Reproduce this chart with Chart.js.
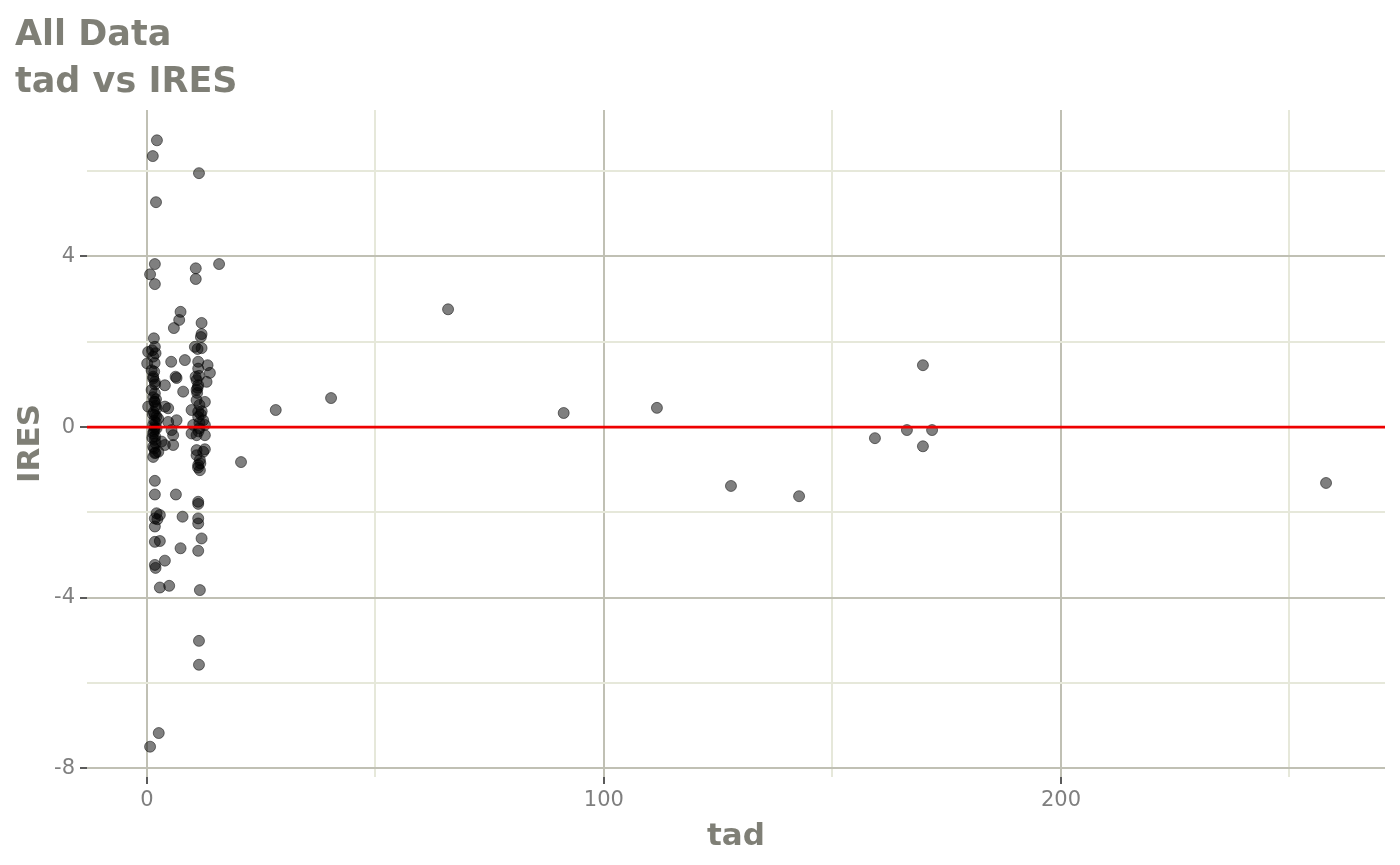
<!DOCTYPE html>
<html>
<head>
<meta charset="utf-8">
<script src="https://cdn.jsdelivr.net/npm/chart.js@4.4.1/dist/chart.umd.min.js"></script>
<style>
html,body{margin:0;padding:0;background:#ffffff;}
#wrap{width:1400px;height:865px;position:relative;}
</style>
</head>
<body>
<div id="wrap"><canvas id="c" width="1400" height="865"></canvas></div>
<script>
const chartTitle = ['All Data', 'tad vs IRES'];
const xLabel = 'tad';
const yLabel = 'IRES';
const xTicks = [0, 100, 200];
const xMinorTicks = [50, 150, 250];
const yTicks = [-8, -4, 0, 4];
const yMinorTicks = [-6, -2, 2, 6];
const refLine = 0;

const tad = [
  2.2, 1.3, 11.4, 2.0, 1.75, 0.7, 1.75, 10.7, 10.7, 15.8, 65.9,
  7.37, 7.07, 5.91, 11.97, 11.97, 11.82, 1.53, 1.75, 1.16, 0.28, 1.90, 1.38, 10.50, 11.09, 11.97,
  0.07, 5.32, 8.32, 11.23, 11.23, 13.28, 13.79, 1.03, 1.38, 6.28, 10.66,
  1.38, 1.75, 3.94, 6.50, 10.88, 11.23, 13.06, 10.88, 11.1, 1.03, 1.75, 7.94, 0.28, 1.75, 2.12,
  3.94, 4.66, 10.88, 12.69, 11.5, 9.78, 11.23, 12.0, 1.75, 2.47, 6.50, 4.66, 11.23, 12.32, 1.38,
  2.12, 10.13, 12.69, 11.5, 5.40, 5.75, 5.75, 1.38, 1.75, 3.22, 1.38, 3.94, 9.78, 10.88, 12.69,
  10.88, 12.69,
  1.38, 1.75, 2.5, 10.88, 11.60, 11.23, 11.60, 12.32, 1.75, 1.75, 6.35, 11.23, 11.23, 2.12, 2.84,
  1.75, 2.3, 7.81, 11.23, 11.23, 1.75,
  1.75, 2.84, 11.97, 7.37, 11.23, 3.94, 1.75, 1.90, 2.84, 4.88, 11.60,
  11.4, 11.4, 2.6, 0.7,
  20.6, 28.2, 40.3, 91.2, 111.6, 127.8, 142.7, 159.3, 166.3, 169.8, 169.8, 171.8, 258.0,
  1.5, 1.6, 1.7, 1.5, 1.8, 1.6, 1.9, 1.4, 1.7, 1.6, 1.9, 2.0, 1.3, 1.2, 2.1, 1.6, 1.8, 1.7, 2.0, 1.9,
  11.0, 11.5, 11.3, 11.8, 11.4, 11.7, 11.2
];
const ires = [
  6.72, 6.35, 5.95, 5.27, 3.82, 3.58, 3.35, 3.72, 3.47, 3.82, 2.76,
  2.70, 2.51, 2.32, 2.44, 2.18, 2.11, 2.08, 1.88, 1.80, 1.76, 1.73, 1.65, 1.88, 1.83, 1.85,
  1.49, 1.53, 1.57, 1.53, 1.37, 1.45, 1.27, 1.33, 1.18, 1.18, 1.18,
  1.14, 1.06, 0.98, 1.15, 1.10, 0.98, 1.06, 0.87, 0.92, 0.87, 0.79, 0.83, 0.48, 0.59, 0.44,
  0.48, 0.44, 0.63, 0.59, 0.52, 0.40, 0.36, 0.37, 0.28, 0.20, 0.16, 0.12, 0.24, 0.16, 0.05,
  -0.03, 0.05, 0.05, -0.03, -0.07, -0.19, -0.42, -0.15, -0.30, -0.34, -0.46, -0.42, -0.15, -0.19, -0.19,
  -0.54, -0.52,
  -0.70, -0.61, -0.58, -0.66, -0.77, -0.89, -1.01, -0.58, -1.26, -1.58, -1.58, -1.75, -1.80, -2.02, -2.06,
  -2.14, -2.16, -2.10, -2.14, -2.26, -2.33,
  -2.69, -2.67, -2.61, -2.84, -2.90, -3.13, -3.23, -3.30, -3.76, -3.72, -3.82,
  -5.01, -5.57, -7.17, -7.49,
  -0.82, 0.40, 0.68, 0.33, 0.45, -1.38, -1.62, -0.26, -0.07, -0.45, 1.45, -0.07, -1.31,
  0.35, 0.15, -0.05, -0.10, -0.22, 0.60, 0.50, 0.70, 0.00, -0.50, -0.38, 0.10, 0.30, -0.25, 0.25, 1.30, 1.00, 1.50, 0.65, -0.60,
  0.80, 0.10, -0.10, 0.30, 1.20, -0.85, -0.95
];

const points = tad.map((v, i) => ({x: v, y: ires[i]}));

const FONT = '"DejaVu Sans", sans-serif';
const TITLE_COLOR = '#7f7f76';
const TICK_COLOR = '#7f7f7f';
const MAJOR_GRID = '#c0c0b4';
const MINOR_GRID = '#e6e8da';
const TICK_MARK = '#5a5a5a';

const isIn = (v, arr) => arr.some(t => Math.abs(v - t) < 1e-6);

const refLinePlugin = {
  id: 'refLine',
  afterDatasetsDraw(chart) {
    const {ctx, chartArea, scales} = chart;
    const y = scales.y.getPixelForValue(refLine);
    ctx.save();
    ctx.strokeStyle = '#ee0000';
    ctx.lineWidth = 2.7;
    ctx.beginPath();
    ctx.moveTo(chartArea.left, y);
    ctx.lineTo(chartArea.right, y);
    ctx.stroke();
    ctx.restore();
  }
};

new Chart(document.getElementById('c'), {
  type: 'scatter',
  data: {
    datasets: [{
      data: points,
      backgroundColor: 'rgba(0,0,0,0.5)',
      borderColor: 'rgba(0,0,0,0.5)',
      borderWidth: 1,
      pointRadius: 5.5,
      pointHoverRadius: 5.5
    }]
  },
  options: {
    responsive: false,
    animation: false,
    events: [],
    layout: {padding: {left: 15, right: 15, top: 0, bottom: 0}},
    plugins: {
      legend: {display: false},
      tooltip: {enabled: false},
      title: {
        display: true,
        text: chartTitle,
        align: 'start',
        color: TITLE_COLOR,
        font: {family: FONT, size: 35, weight: 'bold', lineHeight: 47 / 35},
        padding: {top: 12, bottom: 4}
      }
    },
    scales: {
      x: {
        type: 'linear',
        min: -13.1,
        max: 270.9,
        border: {display: false},
        afterBuildTicks(scale) {
          scale.ticks = xTicks.concat(xMinorTicks).sort((a, b) => a - b).map(v => ({value: v}));
        },
        afterFit(scale) { scale.height = 88; },
        ticks: {
          padding: 4,
          color: TICK_COLOR,
          font: {family: FONT, size: 21},
          maxRotation: 0,
          autoSkip: false,
          callback: (v) => isIn(v, xTicks) ? String(v) : ''
        },
        grid: {
          lineWidth: 2,
          color: (c) => (c.tick && isIn(c.tick.value, xTicks)) ? MAJOR_GRID : MINOR_GRID,
          tickColor: (c) => (c.tick && isIn(c.tick.value, xTicks)) ? TICK_MARK : 'rgba(0,0,0,0)',
          tickLength: 7,
          drawTicks: true
        },
        title: {
          display: true,
          text: xLabel,
          color: TITLE_COLOR,
          font: {family: FONT, size: 31, weight: 'bold', lineHeight: 1.2},
          padding: {top: 0, bottom: 9}
        }
      },
      y: {
        type: 'linear',
        min: -8.2,
        max: 7.43,
        border: {display: false},
        afterBuildTicks(scale) {
          scale.ticks = yTicks.concat(yMinorTicks).sort((a, b) => a - b).map(v => ({value: v}));
        },
        afterFit(scale) { scale.width = 72; },
        ticks: {
          padding: 5,
          color: TICK_COLOR,
          font: {family: FONT, size: 21},
          autoSkip: false,
          callback: (v) => isIn(v, yTicks) ? String(v) : ''
        },
        grid: {
          lineWidth: 2,
          color: (c) => (c.tick && isIn(c.tick.value, yTicks)) ? MAJOR_GRID : MINOR_GRID,
          tickColor: (c) => (c.tick && isIn(c.tick.value, yTicks)) ? TICK_MARK : 'rgba(0,0,0,0)',
          tickLength: 7,
          drawTicks: true
        },
        title: {
          display: true,
          text: yLabel,
          color: TITLE_COLOR,
          font: {family: FONT, size: 31, weight: 'bold', lineHeight: 1.0},
          padding: {top: 0, bottom: 0}
        }
      }
    }
  },
  plugins: [refLinePlugin]
});
</script>
</body>
</html>
